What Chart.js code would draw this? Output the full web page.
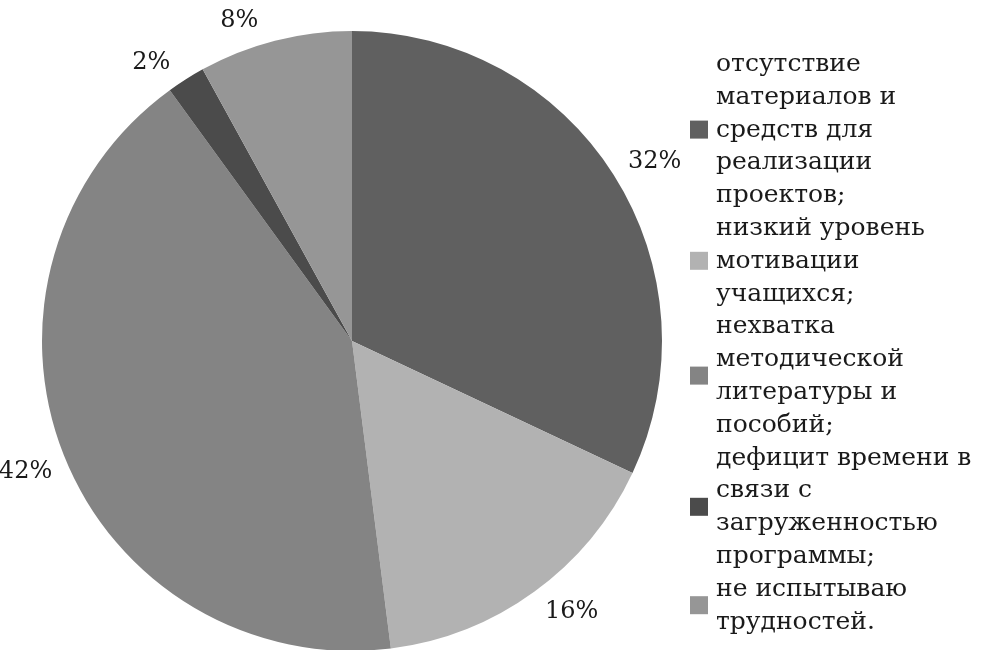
<!DOCTYPE html>
<html>
<head>
<meta charset="utf-8">
<script src="https://cdn.jsdelivr.net/npm/chart.js@4/dist/chart.umd.min.js"></script>
<style>
  html, body { margin: 0; padding: 0; background: #ffffff; overflow: hidden; }
  #wrap { position: relative; width: 984px; height: 680px; }
</style>
</head>
<body>
<div id="wrap"><canvas id="c"></canvas></div>
<script>
// ---- data ----
const categories = [
  "отсутствие материалов и средств для реализации проектов;",
  "низкий уровень мотивации учащихся;",
  "нехватка методической литературы и пособий;",
  "дефицит времени в связи с загруженностью программы;",
  "не испытываю трудностей."
];
const legendLines = [
  ["отсутствие", "материалов и", "средств для", "реализации", "проектов;"],
  ["низкий уровень", "мотивации", "учащихся;"],
  ["нехватка", "методической", "литературы и", "пособий;"],
  ["дефицит времени в", "связи с", "загруженностью", "программы;"],
  ["не испытываю", "трудностей."]
];
const values = [32, 16, 42, 2, 8];
const colors = ["#606060", "#b2b2b2", "#848484", "#4b4b4b", "#969696"];

const FONT = "'DejaVu Serif', 'Liberation Serif', serif";

// small angular nudges (degrees) for the outside-end percent labels
const LABEL_SHIFT_DEG = [1.8, -3.1, -0.3, -3.4, -5];
const LABEL_GAP = 13;

const labelPlugin = {
  id: 'pctLabels',
  afterDatasetsDraw(chart) {
    const ctx = chart.ctx;
    const meta = chart.getDatasetMeta(0);
    ctx.save();
    ctx.font = "24px " + FONT;
    ctx.fillStyle = "#1a1a1a";
    ctx.textAlign = "center";
    ctx.textBaseline = "middle";
    const total = values.reduce((a, b) => a + b, 0);
    meta.data.forEach((arc, i) => {
      const p = arc.getProps(['x', 'y', 'startAngle', 'endAngle', 'outerRadius'], true);
      const txt = Math.round(values[i] / total * 100) + "%";
      const w = ctx.measureText(txt).width, h = 22;
      const a = (p.startAngle + p.endAngle) / 2 + LABEL_SHIFT_DEG[i] * Math.PI / 180;
      const c = Math.cos(a), s = Math.sin(a);
      const d = p.outerRadius + LABEL_GAP + Math.abs(c) * w / 2 + Math.abs(s) * h / 2;
      ctx.fillText(txt, p.x + c * d, p.y + s * d);
    });
    ctx.restore();
  }
};

const legendPlugin = {
  id: 'sideLegend',
  afterDraw(chart) {
    const ctx = chart.ctx;
    ctx.save();
    ctx.font = "25px " + FONT;
    ctx.textBaseline = "alphabetic";
    const lineH = 32.8;
    const textX = 716;
    const boxX = 690, box = 18;
    let y = 71;
    legendLines.forEach((lines, i) => {
      const first = y;
      lines.forEach(t => {
        ctx.fillStyle = "#1a1a1a";
        ctx.fillText(t, textX, y);
        y += lineH;
      });
      const last = y - lineH;
      const cy = (first + last) / 2 - 7;
      ctx.fillStyle = colors[i];
      ctx.fillRect(boxX, cy - box / 2, box, box);
    });
    ctx.restore();
  }
};

new Chart(document.getElementById('c'), {
  type: 'pie',
  data: {
    labels: categories,
    datasets: [{
      data: values,
      backgroundColor: colors,
      borderWidth: 0
    }]
  },
  options: {
    responsive: true,
    maintainAspectRatio: false,
    animation: false,
    layout: { padding: { left: 42, right: 322, top: 31, bottom: 29 } },
    plugins: {
      legend: { display: false },
      tooltip: { enabled: false }
    }
  },
  plugins: [labelPlugin, legendPlugin]
});
</script>
</body>
</html>
